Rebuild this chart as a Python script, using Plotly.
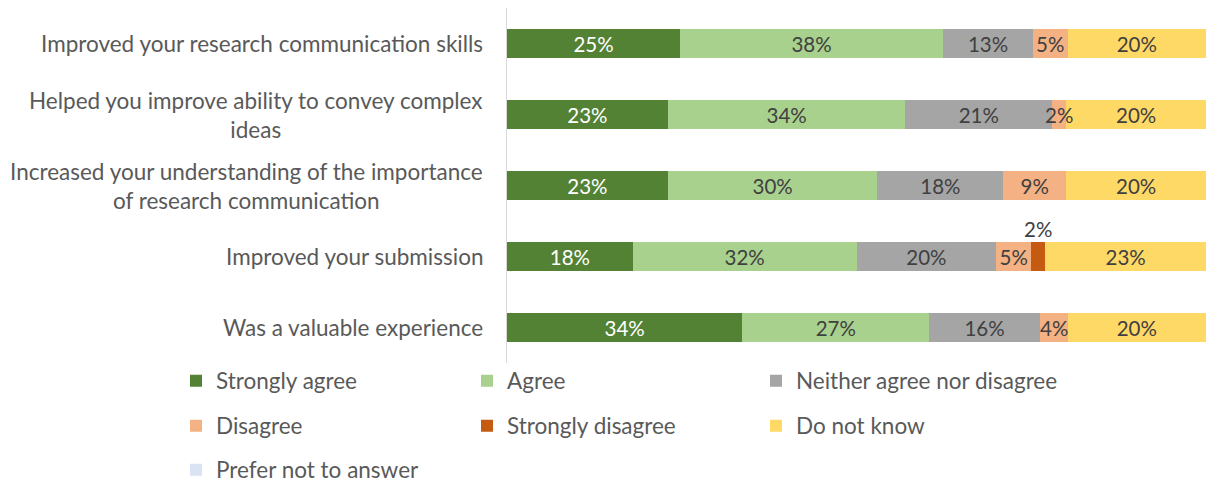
import plotly.graph_objects as go

# Survey statements (top to bottom)
statements = [
    "Improved your research communication skills",
    "Helped you improve ability to convey complex<br>ideas",
    "Increased your understanding of the importance<br>of research communication",
    "Improved your submission",
    "Was a valuable experience",
]

responses = [
    "Strongly agree",
    "Agree",
    "Neither agree nor disagree",
    "Disagree",
    "Strongly disagree",
    "Do not know",
    "Prefer not to answer",
]

# Share of respondents (%) per statement
strongly_agree = [25, 23, 23, 18, 34]
agree = [38, 34, 30, 32, 27]
neither = [13, 21, 18, 20, 16]
disagree = [5, 2, 9, 5, 4]
strongly_disagree = [0, 0, 0, 2, 0]
do_not_know = [20, 20, 20, 23, 20]
prefer_not = [0, 0, 0, 0, 0]

series = [strongly_agree, agree, neither, disagree, strongly_disagree, do_not_know, prefer_not]
colors = ["#548235", "#A9D18E", "#A5A5A5", "#F4B183", "#C55A11", "#FFD966", "#DAE3F3"]
text_colors = ["#FFFFFF", "#404040", "#404040", "#404040", "#404040", "#404040", "#404040"]

FONT = "Lato"
BAR_TEXT = 20.5
LABEL_TEXT = 22.5
SMALL = 4  # segments this narrow get their label drawn on top of the bars

# legend grid: three columns, three rows, one legend box per entry
legend_cols = [176, 467, 756]   # left edge of each column (px)
legend_rows = [381, 426, 470]   # vertical centre of each row (px)
legend_ids = [f"legend{i + 1}" if i else "legend" for i in range(len(responses))]

sd_idx = responses.index("Strongly disagree")

fig = go.Figure()
for k, (name, vals, col, tcol, lg) in enumerate(zip(responses, series, colors, text_colors, legend_ids)):
    labels = [f"{v}%" if v > SMALL else "" for v in vals]
    fig.add_trace(go.Bar(
        y=statements, x=vals, name=name, orientation="h",
        marker=dict(color=col, line=dict(width=0)),
        text=labels, textposition="inside", insidetextanchor="middle",
        textangle=0, constraintext="none",
        textfont=dict(color=tcol, size=BAR_TEXT, family=FONT),
        legend=lg, hoverinfo="skip",
    ))

# labels of narrow segments: centred on the segment, or above it for "Strongly disagree"
for k, vals in enumerate(series):
    for i, stmt in enumerate(statements):
        v = vals[i]
        if v <= 0 or v > SMALL:
            continue
        total = sum(s[i] for s in series)
        before = sum(s[i] for s in series[:k])
        mid = (before + v / 2) / total * 100
        fig.add_annotation(x=mid, y=stmt, xref="x", yref="y", text=f"{v}%",
                           showarrow=False, yshift=28 if k == sd_idx else 0,
                           font=dict(size=BAR_TEXT, color="#404040", family=FONT))

# category labels, centred lines, right-anchored next to the axis
for stmt in statements:
    fig.add_annotation(x=0, y=stmt, xref="paper", yref="y", text=stmt,
                       showarrow=False, xanchor="right", yanchor="middle",
                       align="center", xshift=-22,
                       font=dict(size=LABEL_TEXT, color="#595959", family=FONT))

PLOT_L, PLOT_R, PLOT_T, PLOT_B = 507, 1206, 8, 363
plot_w = PLOT_R - PLOT_L
plot_h = PLOT_B - PLOT_T

legends = {}
for i, lg in enumerate(legend_ids):
    r, c = divmod(i, 3)
    legends[lg] = dict(
        orientation="h",
        x=(legend_cols[c] - PLOT_L) / plot_w, xanchor="left",
        y=(PLOT_B - legend_rows[r]) / plot_h, yanchor="middle",
        font=dict(size=LABEL_TEXT, color="#595959", family=FONT),
        bgcolor="rgba(0,0,0,0)", itemclick=False, itemdoubleclick=False,
    )

fig.update_layout(
    width=1206, height=482,
    margin=dict(l=PLOT_L, r=1206 - PLOT_R, t=PLOT_T, b=482 - PLOT_B, autoexpand=False),
    barmode="stack", barnorm="percent", bargap=0.6,
    paper_bgcolor="white", plot_bgcolor="white",
    font=dict(family=FONT, color="#595959"),
    uniformtext=dict(minsize=BAR_TEXT, mode="show"),
    showlegend=True,
    xaxis=dict(range=[0, 100], visible=False, fixedrange=True),
    yaxis=dict(autorange="reversed", showticklabels=False, ticks="",
               showline=True, linecolor="#D9D9D9", linewidth=1,
               showgrid=False, zeroline=False, fixedrange=True),
    **legends,
)

fig.write_html("out.html")
